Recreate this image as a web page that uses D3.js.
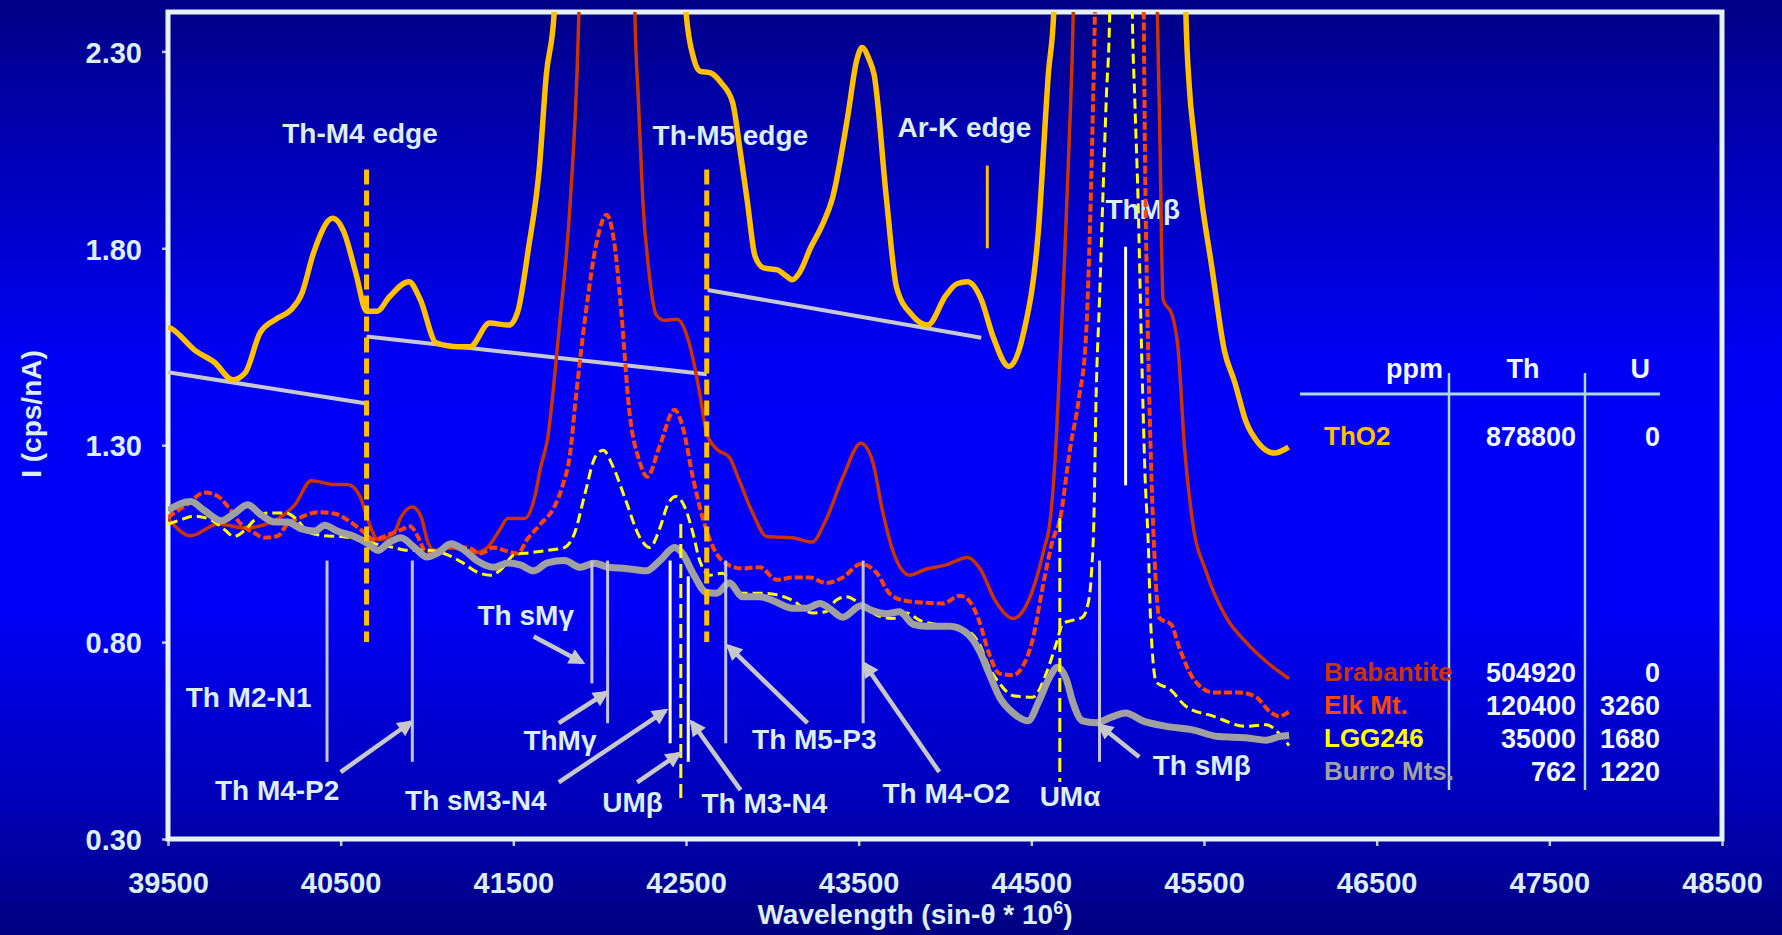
<!DOCTYPE html>
<html>
<head>
<meta charset="utf-8">
<script src="https://cdn.jsdelivr.net/npm/d3@7"></script>
<style>
html, body { margin: 0; padding: 0; background: #000088; overflow: hidden; }
svg { display: block; font-family: "Liberation Sans", Arial, sans-serif; font-weight: bold; }
</style>
</head>
<body>
<script>
const WIDTH = 1782;
const HEIGHT = 935;
const PLOT = {LEFT: 168, RIGHT: 1722, TOP: 12, BOTTOM: 839};
const TEXT_COLOR = "#DCEEF2";

// tick values
const xTicks = [39500, 40500, 41500, 42500, 43500, 44500, 45500, 46500, 47500, 48500];
const yTicks = [0.30, 0.80, 1.30, 1.80, 2.30];

// spectra: [wavelength (sin-theta * 1e6), intensity (cps/nA)]
// values above 2.40 are off scale (clipped at the frame)
const thO2 = [
  [39500,1.60],[39520,1.596],[39658,1.54],[39770,1.51],[39875,1.466],[39947,1.484],
  [40033,1.585],[40125,1.62],[40210,1.643],[40276,1.686],[40342,1.787],[40454,1.876],
  [40520,1.84],[40586,1.74],[40651,1.64],[40710,1.64],[40783,1.677],[40895,1.715],
  [40961,1.67],[41053,1.56],[41184,1.55],[41250,1.55],[41362,1.61],[41474,1.605],
  [41526,1.64],[41586,1.795],[41651,2.006],[41691,2.24],[41737,2.40],[41760,2.9],
  [42470,2.9],[42500,2.40],[42546,2.28],[42580,2.25],[42645,2.245],[42704,2.22],
  [42770,2.17],[42816,2.04],[42855,1.92],[42900,1.78],[42950,1.75],[43030,1.745],
  [43080,1.73],[43115,1.72],[43160,1.74],[43220,1.80],[43290,1.86],[43350,1.93],
  [43435,2.13],[43490,2.28],[43520,2.31],[43560,2.28],[43590,2.24],[43660,1.93],
  [43720,1.70],[43810,1.63],[43900,1.605],[44005,1.68],[44070,1.71],[44130,1.715],
  [44210,1.67],[44275,1.58],[44370,1.50],[44455,1.585],[44540,1.84],[44600,2.25],
  [44630,2.40],[44650,2.9],[45380,2.9],[45395,2.40],[45415,2.21],[45441,2.09],
  [45487,1.92],[45546,1.75],[45618,1.54],[45678,1.46],[45743,1.36],[45816,1.305],
  [45908,1.28],[45990,1.295]
];

const brabantite = [
  [39500,1.114],[39632,1.07],[39790,1.10],[39947,1.09],[40138,1.114],[40237,1.15],
  [40329,1.21],[40467,1.20],[40540,1.20],[40612,1.17],[40658,1.11],[40717,1.06],
  [40809,1.077],[40849,1.117],[40915,1.143],[40967,1.117],[41000,1.06],[41040,1.033],
  [41138,1.04],[41276,1.027],[41349,1.04],[41428,1.09],[41467,1.114],[41566,1.114],
  [41625,1.17],[41658,1.244],[41697,1.313],[41763,1.585],[41830,1.92],[41870,2.26],
  [41880,2.40],[41900,2.9],[42190,2.9],[42204,2.40],[42224,2.18],[42250,1.92],
  [42283,1.75],[42329,1.63],[42375,1.617],[42447,1.62],[42507,1.576],[42545,1.51],
  [42580,1.43],[42620,1.33],[42678,1.29],[42750,1.27],[42809,1.21],[42888,1.126],
  [42967,1.068],[43118,1.065],[43230,1.054],[43310,1.11],[43408,1.218],[43513,1.305],
  [43580,1.26],[43638,1.134],[43697,1.033],[43796,0.97],[43888,0.985],[44007,0.996],
  [44130,1.015],[44205,0.985],[44290,0.906],[44395,0.86],[44467,0.89],[44527,0.958],
  [44570,1.03],[44612,1.12],[44645,1.32],[44670,1.55],[44695,1.80],[44720,2.08],
  [44743,2.40],[44760,2.9],[45215,2.9],[45230,2.40],[45243,2.12],[45263,1.67],
  [45316,1.63],[45349,1.55],[45388,1.29],[45434,1.105],[45513,0.978],[45632,0.86],
  [45743,0.80],[45862,0.75],[45993,0.707]
];

const elkMt = [
  [39500,1.117],[39612,1.15],[39711,1.18],[39790,1.17],[39849,1.143],[39921,1.10],
  [40000,1.077],[40059,1.065],[40138,1.07],[40191,1.10],[40270,1.117],[40368,1.13],
  [40467,1.126],[40540,1.11],[40618,1.085],[40697,1.06],[40750,1.068],[40849,1.085],
  [40901,1.094],[40947,1.068],[40987,1.033],[41046,1.025],[41138,1.04],[41237,1.04],
  [41309,1.025],[41388,1.04],[41447,1.033],[41526,1.025],[41579,1.06],[41658,1.10],
  [41737,1.143],[41780,1.19],[41829,1.28],[41862,1.42],[41921,1.64],[41980,1.81],
  [42040,1.885],[42086,1.81],[42125,1.64],[42171,1.39],[42230,1.26],[42276,1.22],
  [42349,1.30],[42434,1.39],[42480,1.348],[42540,1.218],[42600,1.11],[42658,1.04],
  [42737,0.998],[42829,0.987],[42928,0.99],[43026,0.958],[43118,0.964],[43217,0.964],
  [43309,0.95],[43408,0.964],[43513,0.998],[43605,0.975],[43678,0.924],[43757,0.906],
  [43888,0.90],[43987,0.898],[44086,0.918],[44138,0.906],[44197,0.855],[44256,0.77],
  [44316,0.72],[44395,0.716],[44447,0.736],[44507,0.805],[44566,0.94],[44625,1.06],
  [44665,1.11],[44724,1.29],[44776,1.42],[44816,1.57],[44836,1.80],[44855,2.12],
  [44868,2.40],[44880,2.9],[45140,2.9],[45151,2.40],[45158,2.05],[45171,1.67],
  [45191,1.29],[45211,1.04],[45243,0.86],[45310,0.845],[45355,0.788],[45434,0.71],
  [45553,0.672],[45704,0.672],[45803,0.66],[45882,0.623],[45934,0.612],[45993,0.623]
];

const lgg246 = [
  [39500,1.10],[39572,1.11],[39651,1.12],[39750,1.11],[39829,1.085],[39882,1.068],
  [39947,1.085],[40000,1.11],[40079,1.128],[40178,1.128],[40250,1.11],[40309,1.08],
  [40408,1.07],[40500,1.068],[40618,1.06],[40697,1.05],[40809,1.04],[40888,1.033],
  [41000,1.033],[41099,1.025],[41197,1.004],[41289,0.978],[41368,0.97],[41428,0.984],
  [41507,1.022],[41599,1.027],[41697,1.033],[41796,1.04],[41855,1.077],[41915,1.177],
  [41974,1.27],[42020,1.287],[42079,1.244],[42151,1.16],[42230,1.068],[42290,1.04],
  [42349,1.09],[42395,1.15],[42441,1.17],[42493,1.143],[42540,1.077],[42579,1.007],
  [42638,0.97],[42711,0.975],[42809,0.924],[42928,0.924],[43026,0.92],[43118,0.906],
  [43230,0.874],[43309,0.877],[43369,0.906],[43428,0.915],[43507,0.898],[43599,0.87],
  [43697,0.86],[43776,0.874],[43855,0.855],[43967,0.843],[44125,0.83],[44197,0.797],
  [44256,0.736],[44316,0.695],[44395,0.664],[44507,0.66],[44586,0.72],[44645,0.797],
  [44684,0.848],[44737,0.855],[44796,0.863],[44836,0.915],[44849,0.98],[44862,1.105],
  [44875,1.42],[44895,1.67],[44914,1.925],[44934,2.18],[44954,2.40],[44965,2.9],
  [45075,2.9],[45085,2.40],[45099,2.18],[45118,1.925],[45138,1.55],[45158,1.23],
  [45178,1.04],[45191,0.85],[45224,0.698],[45303,0.68],[45395,0.637],[45553,0.612],
  [45743,0.586],[45862,0.59],[45921,0.574],[45974,0.548],[45993,0.537]
];

const burroMts = [
  [39500,1.134],[39559,1.149],[39632,1.157],[39711,1.134],[39809,1.108],[39882,1.126],
  [39961,1.149],[40039,1.123],[40118,1.105],[40191,1.105],[40270,1.088],[40349,1.082],
  [40408,1.097],[40480,1.082],[40579,1.068],[40658,1.05],[40717,1.033],[40770,1.05],
  [40849,1.065],[40928,1.04],[41000,1.016],[41059,1.025],[41138,1.05],[41217,1.033],
  [41289,1.007],[41388,0.99],[41467,1.001],[41540,0.996],[41618,0.981],[41697,1.001],
  [41796,1.007],[41888,0.99],[41967,1.0],[42053,0.99],[42151,0.987],[42270,0.981],
  [42349,1.007],[42434,1.04],[42480,1.025],[42540,0.975],[42618,0.926],[42678,0.924],
  [42750,0.95],[42829,0.915],[42928,0.915],[43000,0.906],[43118,0.886],[43197,0.886],
  [43276,0.898],[43329,0.886],[43408,0.863],[43513,0.892],[43579,0.88],[43658,0.872],
  [43737,0.877],[43816,0.845],[43888,0.84],[44026,0.84],[44125,0.823],[44197,0.78],
  [44256,0.72],[44316,0.66],[44395,0.62],[44480,0.60],[44546,0.652],[44605,0.71],
  [44651,0.736],[44704,0.704],[44737,0.652],[44796,0.60],[44875,0.595],[44967,0.61],
  [45046,0.62],[45145,0.60],[45283,0.586],[45434,0.577],[45586,0.56],[45743,0.557],
  [45862,0.551],[45934,0.56],[45993,0.563]
];

// background fits under the edges
const backgrounds = [
  [[39500,1.485],[40650,1.406]],
  [[40650,1.576],[42620,1.48]],
  [[42625,1.694],[44210,1.573]]
];

// absorption edges
const edges = [
  {name: "Th-M4 edge", x: 40650, top: 2.00, bottom: 0.80, labelX: 40612, labelY: 2.093},
  {name: "Th-M5 edge", x: 42620, top: 2.00, bottom: 0.80, labelX: 42757, labelY: 2.087}
];
const arEdge = {name: "Ar-K edge", x: 44245, top: 2.01, bottom: 1.80, labelX: 44112, labelY: 2.107};

// emission line positions
const peakLines = [
  {x: 40421, top: 1.007, bottom: 0.496, white: false},
  {x: 40915, top: 1.007, bottom: 0.496, white: false},
  {x: 41955, top: 1.007, bottom: 0.695, white: false},
  {x: 42046, top: 1.007, bottom: 0.594, white: false},
  {x: 42408, top: 1.007, bottom: 0.543, white: true},
  {x: 42513, top: 0.967, bottom: 0.496, white: true},
  {x: 42730, top: 1.007, bottom: 0.543, white: false},
  {x: 43526, top: 1.007, bottom: 0.594, white: false},
  {x: 44895, top: 1.007, bottom: 0.496, white: false},
  {x: 45046, top: 1.804, bottom: 1.198, white: true}
];
const uLines = [
  {x: 42470, top: 1.10, bottom: 0.40},
  {x: 44665, top: 1.115, bottom: 0.445}
];

// line labels [text, x, y]
const peakLabels = [
  ["ThMβ", 45145, 1.90],
  ["Th sMγ", 41572, 0.869],
  ["Th M2-N1", 39967, 0.66],
  ["ThMγ", 41770, 0.551],
  ["Th M4-P2", 40132, 0.424],
  ["Th sM3-N4", 41283, 0.398],
  ["UMβ", 42191, 0.395],
  ["Th M3-N4", 42954, 0.392],
  ["Th M5-P3", 43243, 0.554],
  ["Th M4-O2", 44007, 0.418],
  ["UMα", 44724, 0.41],
  ["Th sMβ", 45487, 0.488]
];

// arrows [tail, tip]
const arrows = [
  [[41618,0.814],[41900,0.748]],
  [[41763,0.594],[42040,0.672]],
  [[40500,0.47],[40908,0.597]],
  [[41763,0.444],[42382,0.626]],
  [[42217,0.444],[42461,0.517]],
  [[42816,0.424],[42533,0.597]],
  [[43204,0.594],[42745,0.79]],
  [[43967,0.47],[43533,0.745]],
  [[45125,0.508],[44895,0.589]]
];

// composition table
const sampleNames = ["ThO2", "Brabantite", "Elk Mt.", "LGG246", "Burro Mts."];
const sampleColors = ["#FFC000", "#CC3300", "#FF4500", "#FFFF00", "#A0A0A0"];
const thPpm = ["878800", "504920", "120400", "35000", "762"];
const uPpm = ["0", "0", "3260", "1680", "1220"];

const series = [
  {data: brabantite, color: "#CC3300", width: 3.5, dash: null},
  {data: elkMt, color: "#FF4500", width: 4, dash: "8,3"},
  {data: lgg246, color: "#FFFF00", width: 3, dash: "10,5"},
  {data: burroMts, color: "#A0A0A0", width: 7, dash: null},
  {data: thO2, color: "#FFC000", width: 5.5, dash: null}
];

var svg = d3.select("body").append("svg")
    .attr("width", WIDTH)
    .attr("height", HEIGHT);

var defs = svg.append("defs");
var grad = defs.append("linearGradient")
    .attr("id", "bg").attr("x1", 0).attr("y1", 0).attr("x2", 0).attr("y2", 1);
[[0, "#000086"], [0.08, "#00009E"], [0.38, "#0000F4"], [0.64, "#0000FA"],
 [0.86, "#0000B8"], [1, "#000082"]].forEach(function(s) {
  grad.append("stop").attr("offset", s[0]).attr("stop-color", s[1]);
});
defs.append("clipPath").attr("id", "plotclip")
  .append("rect")
    .attr("x", PLOT.LEFT).attr("y", PLOT.TOP)
    .attr("width", PLOT.RIGHT - PLOT.LEFT).attr("height", PLOT.BOTTOM - PLOT.TOP);
defs.append("marker")
    .attr("id", "arrowhead")
    .attr("viewBox", "0 0 10 10")
    .attr("refX", 8).attr("refY", 5)
    .attr("markerWidth", 4).attr("markerHeight", 3.6)
    .attr("orient", "auto")
  .append("path")
    .attr("d", "M0,0 L10,5 L0,10 z")
    .attr("fill", "#C8C8C8");

svg.append("rect")
    .attr("width", WIDTH).attr("height", HEIGHT)
    .attr("fill", "url(#bg)");

var x = d3.scaleLinear().domain([39500, 48500]).range([PLOT.LEFT, PLOT.RIGHT]);
var y = d3.scaleLinear().domain([0.30, 2.40]).range([PLOT.BOTTOM, PLOT.TOP]);

// axes
var xAxis = d3.axisBottom(x).tickValues(xTicks).tickSize(7).tickFormat(d3.format("d"));
var yAxis = d3.axisLeft(y).tickValues(yTicks).tickSize(6).tickFormat(d3.format(".2f"));

var gx = svg.append("g")
    .attr("transform", "translate(0," + PLOT.BOTTOM + ")")
    .call(xAxis);
gx.select(".domain").remove();
gx.selectAll("line").attr("stroke", "#C0C8D0").attr("stroke-width", 2.5);
gx.selectAll("text")
    .attr("y", 54).attr("dy", 0)
    .attr("fill", TEXT_COLOR)
    .style("font-size", "29px").style("font-family", "Liberation Sans, Arial, sans-serif")
    .style("font-weight", "bold");

var gy = svg.append("g")
    .attr("transform", "translate(" + PLOT.LEFT + ",0)")
    .call(yAxis);
gy.select(".domain").remove();
gy.selectAll("line").attr("stroke", "#C0C8D0").attr("stroke-width", 2.5);
gy.selectAll("text")
    .attr("x", -26).attr("dy", "0.37em")
    .attr("fill", TEXT_COLOR)
    .style("font-size", "29px").style("font-family", "Liberation Sans, Arial, sans-serif")
    .style("font-weight", "bold");

// axis titles
var xTitle = svg.append("text")
    .attr("x", 915).attr("y", 924)
    .attr("text-anchor", "middle")
    .attr("fill", TEXT_COLOR)
    .style("font-size", "28px")
    .text("Wavelength (sin-θ * 10");
xTitle.append("tspan").attr("baseline-shift", "super").style("font-size", "18px").text("6");
xTitle.append("tspan").text(")");

svg.append("text")
    .attr("transform", "translate(41,414) rotate(-90)")
    .attr("text-anchor", "middle")
    .attr("fill", TEXT_COLOR)
    .style("font-size", "28px")
    .text("I (cps/nA)");

// frame
svg.append("rect")
    .attr("x", PLOT.LEFT).attr("y", PLOT.TOP)
    .attr("width", PLOT.RIGHT - PLOT.LEFT).attr("height", PLOT.BOTTOM - PLOT.TOP)
    .attr("fill", "none")
    .attr("stroke", "#E6F2F4")
    .attr("stroke-width", 5);

var plot = svg.append("g").attr("clip-path", "url(#plotclip)");

// background estimates
plot.selectAll(".bgline")
  .data(backgrounds)
  .enter().append("line")
    .attr("x1", d => x(d[0][0])).attr("y1", d => y(d[0][1]))
    .attr("x2", d => x(d[1][0])).attr("y2", d => y(d[1][1]))
    .attr("stroke", "#C8C8D2")
    .attr("stroke-width", 4);

// edge and line labels (under the curves)
var labelData = edges.concat([arEdge]).map(e => [e.name, e.labelX, e.labelY]).concat(peakLabels);
plot.selectAll(".lbl")
  .data(labelData)
  .enter().append("text")
    .attr("x", d => x(d[1]))
    .attr("y", d => y(d[2]))
    .attr("dy", "0.36em")
    .attr("text-anchor", "middle")
    .attr("fill", TEXT_COLOR)
    .style("font-size", "28px")
    .text(d => d[0]);

// spectra
var line = d3.line()
    .x(d => x(d[0]))
    .y(d => y(d[1]))
    .curve(d3.curveMonotoneX);

series.forEach(function(s) {
  plot.append("path")
      .datum(s.data)
      .attr("d", line)
      .attr("fill", "none")
      .attr("stroke", s.color)
      .attr("stroke-width", s.width)
      .attr("stroke-linejoin", "round")
      .attr("stroke-dasharray", s.dash);
});

// edges
plot.selectAll(".edge")
  .data(edges)
  .enter().append("line")
    .attr("x1", d => x(d.x)).attr("x2", d => x(d.x))
    .attr("y1", d => y(d.top)).attr("y2", d => y(d.bottom))
    .attr("stroke", "#FFC000")
    .attr("stroke-width", 5)
    .attr("stroke-dasharray", "15,6");

plot.append("line")
    .attr("x1", x(arEdge.x)).attr("x2", x(arEdge.x))
    .attr("y1", y(arEdge.top)).attr("y2", y(arEdge.bottom))
    .attr("stroke", "#FFC000")
    .attr("stroke-width", 3);

// emission lines
plot.selectAll(".peak")
  .data(peakLines)
  .enter().append("line")
    .attr("x1", d => x(d.x)).attr("x2", d => x(d.x))
    .attr("y1", d => y(d.top)).attr("y2", d => y(d.bottom))
    .attr("stroke", d => d.white ? "#FFFFFF" : "#C4C4D8")
    .attr("stroke-width", 3);

plot.selectAll(".uline")
  .data(uLines)
  .enter().append("line")
    .attr("x1", d => x(d.x)).attr("x2", d => x(d.x))
    .attr("y1", d => y(d.top)).attr("y2", d => y(d.bottom))
    .attr("stroke", "#FFFF00")
    .attr("stroke-width", 3)
    .attr("stroke-dasharray", "14,6");

// arrows
plot.selectAll(".arrow")
  .data(arrows)
  .enter().append("line")
    .attr("x1", d => x(d[0][0])).attr("y1", d => y(d[0][1]))
    .attr("x2", d => x(d[1][0])).attr("y2", d => y(d[1][1]))
    .attr("stroke", "#C8C8C8")
    .attr("stroke-width", 4.5)
    .attr("marker-end", "url(#arrowhead)");

// composition table
var TABLE = {NAME_X: 1324, TH_X: 1576, U_X: 1660, HEAD_Y: 368, ROWS_Y: [436, 672, 705, 738, 771]};
var table = svg.append("g");

table.append("line")
    .attr("x1", 1300).attr("x2", 1660).attr("y1", 394).attr("y2", 394)
    .attr("stroke", "#A8D8E0").attr("stroke-width", 3);
[1449, 1585].forEach(function(vx) {
  table.append("line")
      .attr("x1", vx).attr("x2", vx).attr("y1", 373).attr("y2", 790)
      .attr("stroke", "#A8D8E0").attr("stroke-width", 2.5);
});

var heads = [["ppm", 1443, "end"], ["Th", 1523, "middle"], ["U", 1650, "end"]];
heads.forEach(function(h) {
  table.append("text")
      .attr("x", h[1]).attr("y", TABLE.HEAD_Y).attr("dy", "0.36em")
      .attr("text-anchor", h[2])
      .attr("fill", "#F0F8FF")
      .style("font-size", "27px")
      .text(h[0]);
});

sampleNames.forEach(function(name, i) {
  var ry = TABLE.ROWS_Y[i];
  table.append("text")
      .attr("x", TABLE.NAME_X).attr("y", ry).attr("dy", "0.36em")
      .attr("fill", sampleColors[i])
      .style("font-size", "26px")
      .text(name);
  table.append("text")
      .attr("x", TABLE.TH_X).attr("y", ry).attr("dy", "0.36em")
      .attr("text-anchor", "end")
      .attr("fill", "#F0F8FF")
      .style("font-size", "27px")
      .text(thPpm[i]);
  table.append("text")
      .attr("x", TABLE.U_X).attr("y", ry).attr("dy", "0.36em")
      .attr("text-anchor", "end")
      .attr("fill", "#F0F8FF")
      .style("font-size", "27px")
      .text(uPpm[i]);
});
</script>
</body>
</html>
